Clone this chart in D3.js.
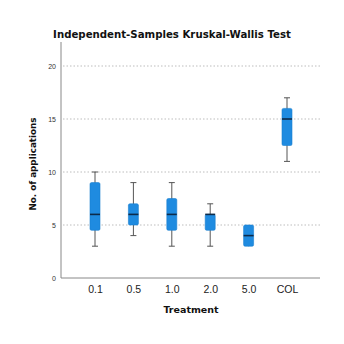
<!DOCTYPE html>
<html>
<head>
<meta charset="utf-8">
<script src="https://cdn.jsdelivr.net/npm/d3@7"></script>
<style>
  html, body { margin: 0; padding: 0; background: #fff; }
  svg { display: block; font-family: "DejaVu Sans", "Open Sans", sans-serif; }
</style>
</head>
<body>
<svg id="chart" width="344" height="344"></svg>
<script>
// Treatment groups and their box-plot summaries
const treatments = ["0.1", "0.5", "1.0", "2.0", "5.0", "COL"];
const whiskerLow = [3, 4, 3, 3, 3, 11];
const quartile1  = [4.5, 5, 4.5, 4.5, 3, 12.5];
const medians    = [6, 6, 6, 6, 4, 15];
const quartile3  = [9, 7, 7.5, 6, 5, 16];
const whiskerHigh = [10, 9, 9, 7, 5, 17];
const yTicks = [0, 5, 10, 15, 20];

const groups = treatments.map((t, i) => ({
  name: t, lo: whiskerLow[i], q1: quartile1[i], med: medians[i],
  q3: quartile3[i], hi: whiskerHigh[i]
}));

const svg = d3.select("#chart");
const plotLeft = 61, plotRight = 320, plotTop = 42, plotBottom = 278;

const y = d3.scaleLinear().domain([0, 20]).range([plotBottom, 66]);
const x = d3.scalePoint().domain(treatments).range([95, 287]);

// Title
svg.append("text")
  .attr("x", 172).attr("y", 38)
  .attr("text-anchor", "middle")
  .attr("font-weight", "bold")
  .attr("font-size", 10.2)
  .attr("fill", "#111")
  .text("Independent-Samples Kruskal-Wallis Test");

// Dotted gridlines
svg.append("g")
  .selectAll("line")
  .data(yTicks.filter(d => d > 0))
  .join("line")
  .attr("x1", plotLeft + 2).attr("x2", plotRight + 2)
  .attr("y1", d => y(d)).attr("y2", d => y(d))
  .attr("stroke", "#bdbdbd")
  .attr("stroke-width", 1)
  .attr("stroke-dasharray", "1.5,2");

// Y axis
const yAxis = d3.axisLeft(y).tickValues(yTicks).tickSize(0).tickPadding(5);
const gy = svg.append("g").attr("transform", `translate(${plotLeft},0)`).call(yAxis);
gy.select(".domain").remove();
gy.selectAll("text").attr("font-size", 7).attr("fill", "#333");
svg.append("line")
  .attr("x1", plotLeft).attr("x2", plotLeft)
  .attr("y1", plotTop).attr("y2", plotBottom)
  .attr("stroke", "#888").attr("stroke-width", 1);

// X axis
const xAxis = d3.axisBottom(x).tickSize(0).tickPadding(8);
const gx = svg.append("g").attr("transform", `translate(0,${plotBottom})`).call(xAxis);
gx.select(".domain").remove();
gx.selectAll("text").attr("font-size", 10.5).attr("fill", "#222");
svg.append("line")
  .attr("x1", plotLeft).attr("x2", plotRight)
  .attr("y1", plotBottom).attr("y2", plotBottom)
  .attr("stroke", "#888").attr("stroke-width", 1);

// Axis titles
svg.append("text")
  .attr("x", 191).attr("y", 313)
  .attr("text-anchor", "middle")
  .attr("font-weight", "bold")
  .attr("font-size", 9.5)
  .attr("fill", "#111")
  .text("Treatment");

svg.append("text")
  .attr("transform", `translate(36,164) rotate(-90)`)
  .attr("text-anchor", "middle")
  .attr("font-weight", "bold")
  .attr("font-size", 8.8)
  .attr("fill", "#111")
  .text("No. of applications");

// Box plots
const boxW = 10, capW = 6;
const g = svg.append("g").selectAll("g").data(groups).join("g")
  .attr("transform", d => `translate(${x(d.name)},0)`);

g.append("line")
  .attr("x1", 0).attr("x2", 0)
  .attr("y1", d => y(d.hi)).attr("y2", d => y(d.lo))
  .attr("stroke", "#555").attr("stroke-width", 1);
g.filter(d => d.hi > d.q3).append("line")
  .attr("x1", -capW / 2).attr("x2", capW / 2)
  .attr("y1", d => y(d.hi)).attr("y2", d => y(d.hi))
  .attr("stroke", "#555").attr("stroke-width", 1);
g.filter(d => d.lo < d.q1).append("line")
  .attr("x1", -capW / 2).attr("x2", capW / 2)
  .attr("y1", d => y(d.lo)).attr("y2", d => y(d.lo))
  .attr("stroke", "#555").attr("stroke-width", 1);

g.append("rect")
  .attr("x", -boxW / 2).attr("width", boxW)
  .attr("y", d => y(d.q3))
  .attr("height", d => y(d.q1) - y(d.q3))
  .attr("rx", 1.5).attr("ry", 1.5)
  .attr("fill", "#1f8be0")
  .attr("stroke", "#1a7fd0").attr("stroke-width", 0.6);

g.append("line")
  .attr("x1", -boxW / 2).attr("x2", boxW / 2)
  .attr("y1", d => y(d.med)).attr("y2", d => y(d.med))
  .attr("stroke", "#0d2b4a").attr("stroke-width", 1.6);
</script>
</body>
</html>
